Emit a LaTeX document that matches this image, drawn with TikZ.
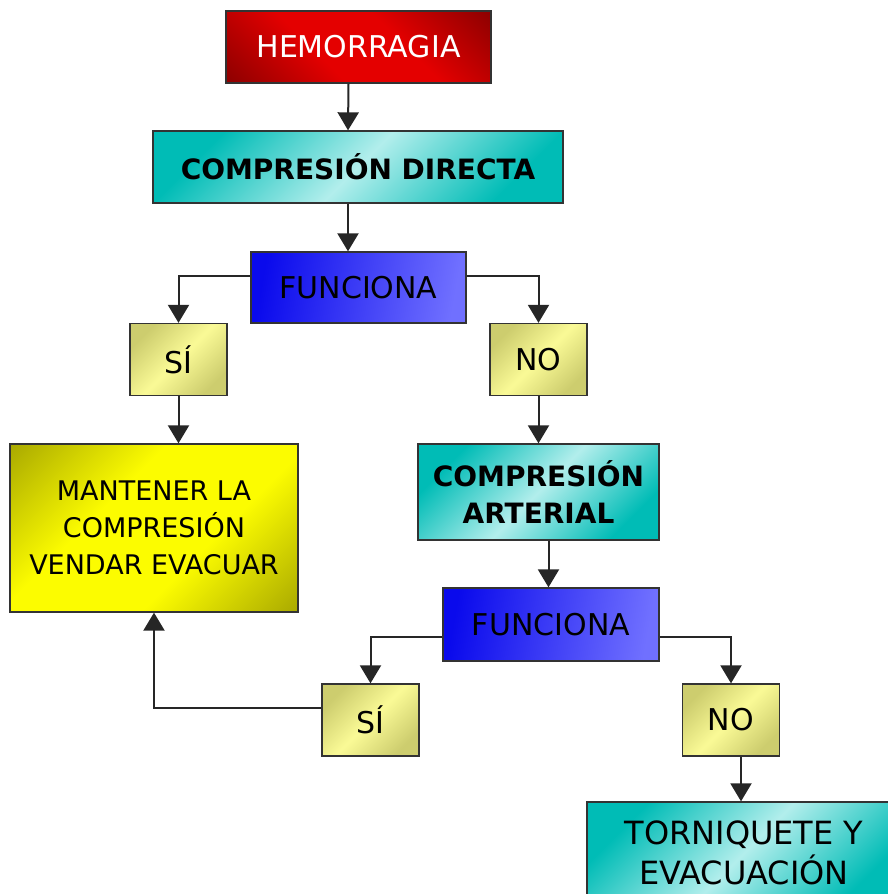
\documentclass[tikz,border=0pt]{standalone}
\usepackage{fontspec}
\setmainfont{DejaVu Sans}
\usetikzlibrary{arrows.meta}

\definecolor{hemdark}{RGB}{90,0,0}
\definecolor{hemred}{RGB}{228,0,0}
\definecolor{tealdark}{RGB}{0,188,182}
\definecolor{teallight}{RGB}{178,238,236}
\definecolor{bluedark}{RGB}{10,10,236}
\definecolor{bluelight}{RGB}{112,112,255}
\definecolor{palelive}{RGB}{205,205,110}
\definecolor{paleyellow}{RGB}{250,250,150}
\definecolor{olivedark}{RGB}{120,120,0}
\definecolor{brightyellow}{RGB}{252,252,0}

% plateau shadings: dark corners, flat colour in between
\pgfdeclareverticalshading{hemshade}{100bp}{color(0bp)=(hemdark); color(40bp)=(hemred);
  color(60bp)=(hemred); color(100bp)=(hemdark)}
\pgfdeclareverticalshading{yellowshade}{100bp}{color(0bp)=(olivedark); color(39bp)=(brightyellow);
  color(61bp)=(brightyellow); color(100bp)=(olivedark)}

\begin{document}
\begin{tikzpicture}
  [
    x=1pt, y=-1pt,
    box/.style={draw=black!80, line width=1.3pt, align=center, inner sep=0pt,
      font=\fontsize{30}{37}\selectfont},
    boldbox/.style={box, font=\fontsize{28}{37}\selectfont\bfseries},
    redbox/.style={box, text=white, shading=hemshade, shading angle=-45},
    tealbox/.style={top color=tealdark, bottom color=tealdark,
      middle color=teallight, shading angle=45},
    bluebox/.style={box, left color=bluedark, right color=bluelight, shading angle=80},
    answer/.style={box, minimum width=97pt, minimum height=72pt,
      top color=palelive, bottom color=palelive, middle color=paleyellow, shading angle=45},
    arr/.style={-{Triangle[width=21pt,length=18pt]}, line width=2pt, black!85}
  ]
  \useasboundingbox (0,0) rectangle (888,894);
  % first level
  \node [redbox, minimum width=265pt, minimum height=72pt] (hem) at (358.5,47) {HEMORRAGIA};
  \node [boldbox, tealbox, minimum width=410pt, minimum height=72pt] (cd) at (358,167) {COMPRESIÓN DIRECTA};
  \node [bluebox, minimum width=215pt, minimum height=71pt] (fun1) at (358.5,287.5) {FUNCIONA};
  \node [answer] (si1) at (178.5,359.5) {SÍ};
  \node [answer] (no1) at (538.5,359.5) {NO};
  \node [box, minimum width=288pt, minimum height=168pt, shading=yellowshade, shading angle=45,
    font=\fontsize{27}{37}\selectfont] (mant) at (154,528) {MANTENER LA\\COMPRESIÓN\\VENDAR EVACUAR};
  % second level
  \node [boldbox, tealbox, minimum width=241pt, minimum height=96pt] (ca) at (538.5,492) {COMPRESIÓN\\ARTERIAL};
  \node [bluebox, minimum width=216pt, minimum height=73pt] (fun2) at (551,624.5) {FUNCIONA};
  \node [answer] (si2) at (370.5,720) {SÍ};
  \node [answer] (no2) at (731,720) {NO};
  \node [box, tealbox, minimum width=314pt, minimum height=102pt,
    font=\fontsize{32}{40}\selectfont] (torn) at (744,853) {TORNIQUETE Y\\EVACUACIÓN};
  % arrows
  \draw [arr] ([xshift=-10pt]hem.south) -- ([xshift=-10pt]cd.north);
  \draw [arr] ([xshift=-10pt]cd.south) -- ([xshift=-10pt]cd.south |- fun1.north);
  \draw [arr] ([yshift=12pt]fun1.west) -| (si1.north);
  \draw [arr] ([yshift=12pt]fun1.east) -| (no1.north);
  \draw [arr] (si1.south) -- (si1.south |- mant.north);
  \draw [arr] (no1.south) -- (ca.north);
  \draw [arr] ([xshift=10pt]ca.south) -- ([xshift=10pt]ca.south |- fun2.north);
  \draw [arr] ([yshift=-12pt]fun2.west) -| (si2.north);
  \draw [arr] ([yshift=-12pt]fun2.east) -| (no2.north);
  \draw [arr] ([xshift=10pt]no2.south) -- ([xshift=10pt]no2.south |- torn.north);
  \draw [arr] ([yshift=12pt]si2.west) -| (mant.south);
\end{tikzpicture}
\end{document}
